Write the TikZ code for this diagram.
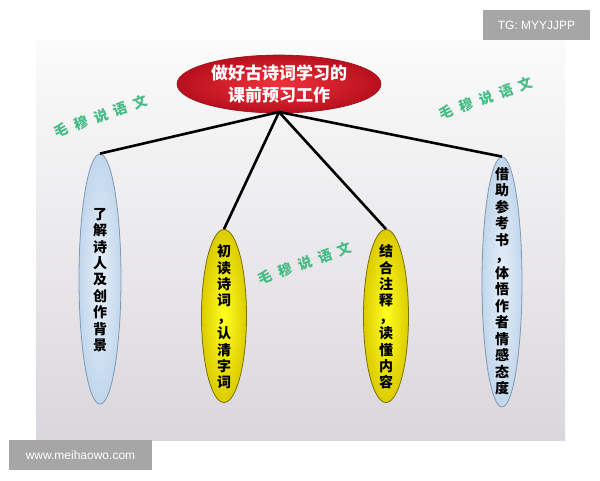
\documentclass[tikz,border=0pt]{standalone}
\usepackage{fontspec}
\usetikzlibrary{shapes.geometric}
\newfontfamily\cjk{Noto Sans CJK SC}
\newfontfamily\wmfont{Liberation Sans}
\definecolor{panelTop}{HTML}{FBFBFB}
\definecolor{panelBot}{HTML}{DAD7DC}
\definecolor{wmgray}{HTML}{A6A6A6}
\definecolor{redIn}{HTML}{F0323A}
\definecolor{redOut}{HTML}{B8101E}
\definecolor{redLine}{HTML}{9A0E18}
\definecolor{blueIn}{HTML}{E6EFF9}
\definecolor{blueOut}{HTML}{C2D7EC}
\definecolor{blueLine}{HTML}{7F98B6}
\definecolor{yelIn}{HTML}{FFFF20}
\definecolor{yelOut}{HTML}{DCCC00}
\definecolor{yelLine}{HTML}{7A7000}
\definecolor{mint}{HTML}{45BC85}
\begin{document}
\begin{tikzpicture}[x=1pt,y=-1pt,
  wmbox/.style={fill=wmgray,text=white,font=\wmfont\fontsize{12}{14}\selectfont,inner sep=0pt,minimum height=30pt},
  bluebox/.style={ellipse,draw=blueLine,line width=0.8pt,inner color=blueIn,outer color=blueOut,inner sep=0pt,minimum width=42pt,minimum height=250pt},
  yelbox/.style={ellipse,draw=yelLine,line width=0.8pt,inner color=yelIn,outer color=yelOut,inner sep=0pt,minimum width=45pt,minimum height=173pt},
  vtext/.style={align=center,inner sep=0pt,font=\cjk\bfseries\fontsize{14}{16.4}\selectfont},
  topbox/.style={ellipse,draw=redLine,line width=0.6pt,inner color=redIn,outer color=redOut,inner sep=0pt,minimum width=204pt,minimum height=58pt},
  toptext/.style={align=center,inner sep=0pt,text=white,font=\cjk\bfseries\fontsize{17}{22}\selectfont},
  link/.style={line width=2.6pt,black},
  wmtext/.style={text=mint,font=\cjk\bfseries\fontsize{14}{16}\selectfont,rotate=20}
]
\useasboundingbox (0,0) rectangle (600,480);
\fill[white] (0,0) rectangle (600,480);
\shade[top color=panelTop,bottom color=panelBot] (36,40) rectangle (565,440);

\node[wmbox,minimum width=107pt] (tg) at (536.5,25) {TG: MYYJJPP};
\node[wmbox,minimum width=143pt] (site) at (80.5,455) {www.meihaowo.com};

\node[wmtext] (wm1) at (101,116) {毛\hspace{7pt}穆\hspace{7pt}说\hspace{7pt}语\hspace{7pt}文};
\node[wmtext] (wm2) at (486,98) {毛\hspace{7pt}穆\hspace{7pt}说\hspace{7pt}语\hspace{7pt}文};
\node[wmtext] (wm3) at (305,263) {毛\hspace{7pt}穆\hspace{7pt}说\hspace{7pt}语\hspace{7pt}文};

\node[topbox] (top) at (279,84) {};
\node[toptext] (toplbl) at (top.center) {做好古诗词学习的\\课前预习工作};

\node[bluebox] (a) at (100,279) {};
\node[vtext] (albl) at (100,280) {了\\解\\诗\\人\\及\\创\\作\\背\\景};
\node[yelbox] (b) at (224,316) {};
\node[vtext] (blbl) at (224,317) {初\\读\\诗\\词\\，\\认\\清\\字\\词};
\node[yelbox] (c) at (386,316) {};
\node[vtext] (clbl) at (386,317) {结\\合\\注\\释\\，\\读\\懂\\内\\容};
\node[bluebox,minimum width=40pt] (d) at (502,282) {};
\node[vtext,font=\cjk\bfseries\fontsize{14}{16.5}\selectfont] (dlbl) at (502,281) {借\\助\\参\\考\\书\\，\\体\\悟\\作\\者\\情\\感\\态\\度};

\coordinate (hub) at (279,112);
\draw[link] (hub) -- (a.north);
\draw[link] (hub) -- (b.north);
\draw[link] (hub) -- (c.north);
\draw[link] (hub) -- (d.north);
\end{tikzpicture}
\end{document}
